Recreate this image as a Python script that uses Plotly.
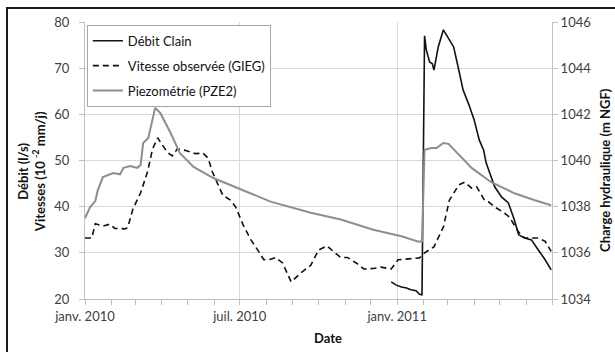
import plotly.graph_objects as go

# ---- Data ----
debit_dates = ["2010-12-25", "2010-12-31", "2011-01-06", "2011-01-12", "2011-01-17", "2011-01-23",
               "2011-01-27", "2011-01-30", "2011-02-02", "2011-02-04", "2011-02-08", "2011-02-11",
               "2011-02-13", "2011-02-18", "2011-02-24", "2011-03-02", "2011-03-08", "2011-03-14",
               "2011-03-19", "2011-03-26", "2011-04-01", "2011-04-07", "2011-04-12", "2011-04-15",
               "2011-04-21", "2011-04-25", "2011-05-03", "2011-05-11", "2011-05-18", "2011-05-23",
               "2011-05-30", "2011-06-07", "2011-06-15", "2011-06-23", "2011-06-30"]
debit_vals = [23.7, 23.0, 22.6, 22.4, 22.0, 21.8, 21.0, 20.9, 77.0, 74.0, 71.3, 71.0,
              69.6, 74.6, 78.3, 76.5, 74.6, 69.6, 65.3, 62.0, 58.8, 54.4, 52.3, 49.5,
              46.4, 44.3, 42.1, 40.8, 37.1, 33.9, 33.2, 32.8, 30.6, 28.5, 26.3]

vitesse_dates = ["2010-01-01", "2010-01-09", "2010-01-13", "2010-01-22", "2010-01-30", "2010-02-05",
                 "2010-02-17", "2010-02-20", "2010-02-26", "2010-03-07", "2010-03-15", "2010-03-21",
                 "2010-03-27", "2010-04-01", "2010-04-07", "2010-04-13", "2010-04-19", "2010-04-28",
                 "2010-05-10", "2010-05-19", "2010-05-25", "2010-05-30", "2010-06-05", "2010-06-11",
                 "2010-06-20", "2010-06-26", "2010-07-05", "2010-07-14", "2010-07-22", "2010-07-29",
                 "2010-08-06", "2010-08-12", "2010-08-20", "2010-08-30", "2010-09-10", "2010-09-22",
                 "2010-10-01", "2010-10-11", "2010-10-19", "2010-10-27", "2010-11-04", "2010-11-14",
                 "2010-11-23", "2010-12-04", "2010-12-13", "2010-12-25", "2011-01-02", "2011-01-17",
                 "2011-01-27", "2011-02-02", "2011-02-13", "2011-02-24", "2011-03-03", "2011-03-14",
                 "2011-03-21", "2011-03-29", "2011-04-04", "2011-04-13", "2011-04-18", "2011-04-27",
                 "2011-05-05", "2011-05-12", "2011-05-23", "2011-05-30", "2011-06-15", "2011-06-23",
                 "2011-06-30"]
vitesse_vals = [33.2, 33.2, 36.3, 35.8, 36.2, 35.3,
                35.2, 35.5, 39.5, 43.0, 47.5, 52.5,
                54.9, 53.5, 51.8, 51.0, 52.5, 52.2,
                51.5, 51.6, 50.5, 47.5, 45.1, 42.5,
                41.4, 40.0, 36.0, 32.8, 30.6, 28.5,
                28.6, 29.0, 27.8, 23.7, 25.6, 27.3,
                30.6, 31.5, 30.2, 29.0, 29.0, 27.8,
                26.5, 26.6, 26.9, 26.5, 28.5, 28.7,
                28.9, 30.0, 31.3, 35.6, 41.4, 44.7,
                45.3, 44.0, 44.3, 41.4, 41.0, 39.7,
                38.8, 37.8, 34.5, 33.2, 33.2, 32.5,
                30.3]

piezo_dates = ["2010-01-01", "2010-01-07", "2010-01-13", "2010-01-16", "2010-01-22", "2010-02-03",
               "2010-02-11", "2010-02-15", "2010-02-23", "2010-03-03", "2010-03-07", "2010-03-10",
               "2010-03-16", "2010-03-21", "2010-03-24", "2010-03-30", "2010-04-11", "2010-04-22",
               "2010-05-08", "2010-05-31", "2010-07-02", "2010-08-06", "2010-09-22", "2010-10-27",
               "2010-12-04", "2011-01-06", "2011-01-26", "2011-01-30", "2011-02-02", "2011-02-10",
               "2011-02-16", "2011-02-24", "2011-03-02", "2011-03-09", "2011-03-29", "2011-04-21",
               "2011-05-18", "2011-06-11", "2011-06-30"]
piezo_vals = [1037.50, 1037.98, 1038.24, 1038.72, 1039.28, 1039.46,
              1039.40, 1039.68, 1039.76, 1039.68, 1039.80, 1040.76,
              1040.98, 1041.76, 1042.28, 1042.06, 1041.20, 1040.32,
              1039.72, 1039.24, 1038.76, 1038.22, 1037.74, 1037.44,
              1037.00, 1036.72, 1036.48, 1036.50, 1040.46, 1040.54,
              1040.54, 1040.76, 1040.72, 1040.46, 1039.68, 1039.06,
              1038.58, 1038.28, 1038.06]

x_tickvals = ["2010-01-01", "2010-07-01", "2011-01-01"]
x_ticktext = ["janv. 2010", "juil. 2010", "janv. 2011"]

FONT = "Lato, 'Open Sans', sans-serif"
TXT = "#404040"
GRID = "#d9d9d9"
AXL = "#bfbfbf"

fig = go.Figure()
fig.add_trace(go.Scatter(x=debit_dates, y=debit_vals, name="Débit Clain", mode="lines",
                         line=dict(color="#111111", width=1.6), legendgroup="a"))
fig.add_trace(go.Scatter(x=vitesse_dates, y=vitesse_vals, name="Vitesse observée (GIEG)", mode="lines",
                         line=dict(color="#111111", width=1.6, dash="6px,4px"), legendgroup="b"))
fig.add_trace(go.Scatter(x=piezo_dates, y=piezo_vals, name="Piezométrie (PZE2)", mode="lines",
                         line=dict(color="#8e8e8e", width=2), yaxis="y2", legendgroup="c"))

fig.update_layout(
    width=615, height=352,
    margin=dict(l=85, r=63, t=22, b=53),
    paper_bgcolor="white", plot_bgcolor="white",
    font=dict(family=FONT, size=13, color=TXT),
    showlegend=True,
    legend=dict(x=0.004, y=0.99, xanchor="left", yanchor="top",
                bordercolor="#a6a6a6", borderwidth=1, bgcolor="white",
                font=dict(family=FONT, size=13, color="#111111"),
                tracegroupgap=5, traceorder="grouped"),
    xaxis=dict(type="date", range=["2010-01-01", "2011-07-01"],
               tickmode="array", tickvals=x_tickvals, ticktext=x_ticktext,
               showgrid=True, gridcolor=GRID, gridwidth=1,
               showline=True, linecolor=AXL, linewidth=1,
               ticks="outside", ticklen=5, tickcolor=AXL,
               minor=dict(tickmode="linear", tick0="2010-01-01", dtick="M1",
                          ticks="outside", ticklen=5, tickcolor=AXL, showgrid=False),
               zeroline=False, tickfont=dict(size=13, color=TXT)),
    yaxis=dict(range=[20, 80], dtick=10, tick0=20,
               showgrid=True, gridcolor=GRID, gridwidth=1,
               showline=True, linecolor=AXL, linewidth=1,
               ticks="outside", ticklen=5, tickcolor=AXL, ticklabelstandoff=7,
               zeroline=False, tickfont=dict(size=13, color=TXT)),
    yaxis2=dict(range=[1034, 1046], dtick=2, tick0=1034, overlaying="y", side="right",
                showgrid=False, showline=True, linecolor=AXL, linewidth=1,
                ticks="outside", ticklen=5, tickcolor=AXL,
                zeroline=False, tickfont=dict(size=13, color=TXT)),
)

fig.add_annotation(xref="paper", yref="paper", x=-0.1156, y=0.458,
                   text="<b>Débit (l/s)<br>Vitesses (10 <sup>-2</sup> mm/j)</b>",
                   textangle=-90, showarrow=False, xanchor="center", yanchor="middle",
                   font=dict(family=FONT, size=13, color="#111111"))
fig.add_annotation(xref="paper", yref="paper", x=1.1135, y=0.466,
                   text="<b>Charge hydraulique (m NGF)</b>",
                   textangle=-90, showarrow=False, xanchor="center", yanchor="middle",
                   font=dict(family=FONT, size=13, color="#111111"))
fig.add_annotation(xref="paper", yref="paper", x=0.52, y=-0.141,
                   text="<b>Date</b>", showarrow=False, xanchor="center", yanchor="middle",
                   font=dict(family=FONT, size=13, color="#111111"))

# outer chart frame (cropped on the right and bottom in the reference)
fig.add_shape(type="rect", xref="paper", yref="paper", x0=-0.167, x1=1.4, y0=-0.4, y1=1.0505,
              line=dict(color="#1a1a1a", width=2), fillcolor="rgba(0,0,0,0)", layer="below")

fig.write_html("out.html", config={"displayModeBar": False},
               post_script="document.body.style.margin='0';document.body.style.overflow='hidden';")
